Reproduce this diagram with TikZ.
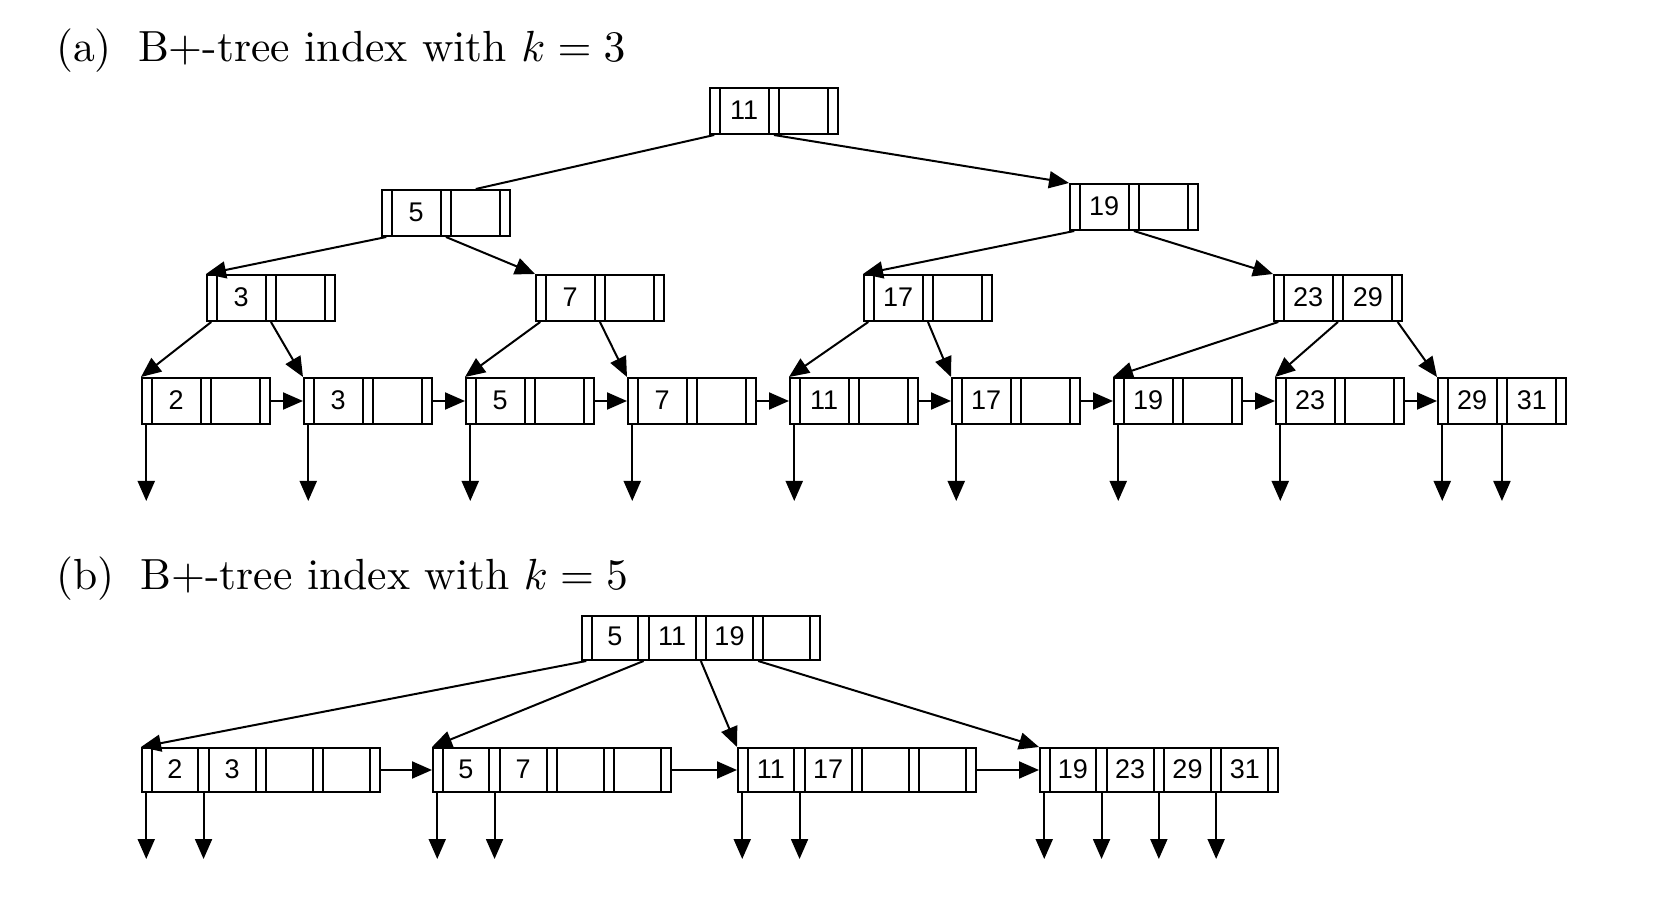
\documentclass[tikz,border=0pt]{standalone}
\usepackage{fontspec}
\usepackage{tikz}
\usetikzlibrary{shapes.multipart, positioning, arrows.meta}

\newfontfamily\keyfont{Liberation Sans}
\newcommand{\pslot}{\makebox[4.25pt]{}}
\newcommand{\kslot}[3]{\makebox[#1]{\rule[-7pt]{0pt}{#2}#3}}
\newcommand{\twokeys}[2]{\pslot\nodepart{two}\kslot{23.6pt}{23pt}{#1}\nodepart{three}\pslot\nodepart{four}\kslot{23.6pt}{23pt}{#2}\nodepart{five}\pslot}
\newcommand{\fourkeys}[4]{\pslot\nodepart{two}\kslot{22.4pt}{22pt}{#1}\nodepart{three}\pslot\nodepart{four}\kslot{22.4pt}{22pt}{#2}\nodepart{five}\pslot\nodepart{six}\kslot{22.4pt}{22pt}{#3}\nodepart{seven}\pslot\nodepart{eight}\kslot{22.4pt}{22pt}{#4}\nodepart{nine}\pslot}

\begin{document}
\begin{tikzpicture}[x=0.5pt, y=-0.5pt, line width=1pt, on grid,
    bnode/.style={draw, rectangle split, rectangle split horizontal, rectangle split parts=5,
        inner sep=0pt, anchor=north west, font=\keyfont\fontsize{13.5pt}{16pt}\selectfont},
    wnode/.style={bnode, rectangle split parts=9},
    ptr/.style={-{Triangle[length=10pt, width=8.5pt]}},
    title/.style={anchor=base west, inner sep=0pt, scale=2.18, transform shape, font=\fontsize{10pt}{12pt}\selectfont}]
    \useasboundingbox (0,0) rectangle (1672,914);

    % (a) k = 3
    \node[title] (ta) at (54,62) {(a)\hspace{0.6em}B+-tree index with $k=3$};

    \node[bnode] (root) at (709,87) {\twokeys{11}{}};
    \node[bnode] (n5)  at (381,189) {\twokeys{5}{}};
    \node[bnode] (n19) at (1069,183) {\twokeys{19}{}};
    \node[bnode] (n3)  at (206,274) {\twokeys{3}{}};
    \node[bnode] (n7)  at (535,274) {\twokeys{7}{}};
    \node[bnode] (n17) at (863,274) {\twokeys{17}{}};
    \node[bnode] (n23) at (1273,274) {\twokeys{23}{29}};

    \node[bnode] (l2) at (141,377) {\twokeys{2}{}};
    \node[bnode] (l3)  [right=81pt of l2]  {\twokeys{3}{}};
    \node[bnode] (l5)  [right=81pt of l3]  {\twokeys{5}{}};
    \node[bnode] (l7)  [right=81pt of l5]  {\twokeys{7}{}};
    \node[bnode] (l11) [right=81pt of l7]  {\twokeys{11}{}};
    \node[bnode] (l17) [right=81pt of l11] {\twokeys{17}{}};
    \node[bnode] (l19) [right=81pt of l17] {\twokeys{19}{}};
    \node[bnode] (l23) [right=81pt of l19] {\twokeys{23}{}};
    \node[bnode] (l29) [right=81pt of l23] {\twokeys{29}{31}};

    \coordinate (floorA) at (0,501);

    \draw (root.one south) -- (n5.four north);
    \path[ptr]
    (root.three south) edge (n19.north west)
    (n5.one south) edge (n3.north west)
    (n5.three south) edge (n7.north west)
    (n19.one south) edge (n17.north west)
    (n19.three south) edge (n23.north west)
    (n3.one south) edge (l2.north west)
    (n3.three south) edge (l3.north west)
    (n7.one south) edge (l5.north west)
    (n7.three south) edge (l7.north west)
    (n17.one south) edge (l11.north west)
    (n17.three south) edge (l17.north west)
    (n23.one south) edge (l19.north west)
    (n23.three south) edge (l23.north west)
    (n23.five south) edge (l29.north west);

    \foreach \a/\b in {l2/l3, l3/l5, l5/l7, l7/l11, l11/l17, l17/l19, l19/l23, l23/l29}
        \draw[ptr] (\a.east) -- (\b.west);
    \foreach \n in {l2, l3, l5, l7, l11, l17, l19, l23, l29}
        \draw[ptr] (\n.one south) -- (\n.one south |- floorA);
    \draw[ptr] (l29.three south) -- (l29.three south |- floorA);

    % (b) k = 5
    \node[title] (tb) at (54,590) {(b)\hspace{0.6em}B+-tree index with $k=5$};

    \node[wnode] (broot) at (581,615) {\fourkeys{5}{11}{19}{}};
    \node[wnode] (b2)  at (141,747) {\fourkeys{2}{3}{}{}};
    \node[wnode] (b5)  at (432,747) {\fourkeys{5}{7}{}{}};
    \node[wnode] (b11) at (737,747) {\fourkeys{11}{17}{}{}};
    \node[wnode] (b19) at (1039,747) {\fourkeys{19}{23}{29}{31}};

    \coordinate (floorB) at (0,859);

    \path[ptr]
    (broot.one south) edge (b2.north west)
    (broot.three south) edge (b5.north west)
    (broot.five south) edge (b11.north west)
    (broot.seven south) edge (b19.north west);

    \foreach \a/\b in {b2/b5, b5/b11, b11/b19}
        \draw[ptr] (\a.east) -- (\b.west);
    \foreach \n/\p in {b2/one, b2/three, b5/one, b5/three, b11/one, b11/three,
                       b19/one, b19/three, b19/five, b19/seven}
        \draw[ptr] (\n.\p\space south) -- (\n.\p\space south |- floorB);
\end{tikzpicture}
\end{document}
